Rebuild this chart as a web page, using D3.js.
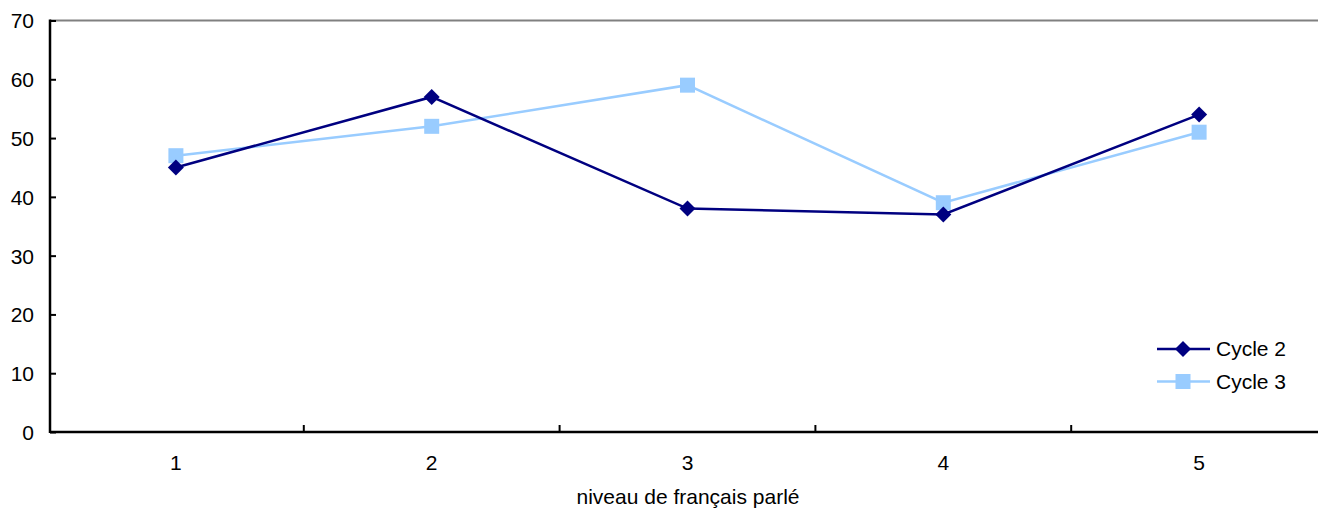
<!DOCTYPE html>
<html>
<head>
<meta charset="utf-8">
<script src="https://cdn.jsdelivr.net/npm/d3@7"></script>
<style>
  html, body { margin: 0; padding: 0; background: #fff; }
  svg { display: block; font-family: "Liberation Sans", Arial, sans-serif; }
</style>
</head>
<body>
<svg id="chart" width="1318" height="510"></svg>
<script>
// Levels of spoken French and the share per cycle
const categories = ["1", "2", "3", "4", "5"];
const cycle2 = [45, 57, 38, 37, 54];
const cycle3 = [47, 52, 59, 39, 51];
const yTicks = [0, 10, 20, 30, 40, 50, 60, 70];
const seriesNames = ["Cycle 2", "Cycle 3"];
const xTitle = "niveau de français parlé";

const svg = d3.select("#chart");
const axisX = 50, plotLeft = 48, plotRight = 1327, plotTop = 20.5, plotBottom = 432;
const fontSize = 21;

const x = d3.scaleBand().domain(categories).range([plotLeft, plotRight]).padding(0);
const y = d3.scaleLinear().domain([0, 70]).range([plotBottom, plotTop]);
const cx = d => x(d) + x.bandwidth() / 2;

// top frame line
svg.append("line")
  .attr("x1", axisX).attr("x2", 1318)
  .attr("y1", y(70)).attr("y2", y(70))
  .attr("stroke", "#808080").attr("stroke-width", 2);

// y axis (ticks point into the plot)
const yAxis = svg.append("g")
  .attr("transform", `translate(${axisX},0)`)
  .call(d3.axisRight(y).tickValues(yTicks).tickSize(6).tickFormat(d3.format("d")));
yAxis.select(".domain").remove();
yAxis.selectAll(".tick line").attr("stroke", "#000").attr("stroke-width", 2);
yAxis.selectAll(".tick text")
  .attr("x", -16).attr("text-anchor", "end").attr("dy", "0.35em")
  .attr("font-size", fontSize).attr("fill", "#000")
  .style("font-family", "Liberation Sans, Arial, sans-serif");

svg.append("line")
  .attr("x1", axisX).attr("x2", axisX)
  .attr("y1", y(70) - 1).attr("y2", plotBottom + 1)
  .attr("stroke", "#000").attr("stroke-width", 2.5);

// x axis: category labels centred, ticks between categories
const xAxis = svg.append("g").attr("transform", `translate(0,${plotBottom})`);
xAxis.append("line")
  .attr("x1", axisX).attr("x2", 1318)
  .attr("stroke", "#000").attr("stroke-width", 2.5);
xAxis.selectAll("line.tk").data(categories.slice(1)).enter().append("line")
  .attr("class", "tk")
  .attr("x1", d => x(d)).attr("x2", d => x(d))
  .attr("y1", 0).attr("y2", -7)
  .attr("stroke", "#000").attr("stroke-width", 2);
xAxis.selectAll("text").data(categories).enter().append("text")
  .attr("x", d => cx(d)).attr("y", 38)
  .attr("text-anchor", "middle").attr("font-size", fontSize).attr("fill", "#000")
  .text(d => d);

svg.append("text")
  .attr("x", 688).attr("y", 504)
  .attr("text-anchor", "middle").attr("font-size", fontSize).attr("fill", "#000")
  .text(xTitle);

const line = d3.line().x((d, i) => cx(categories[i])).y(d => y(d));

const series = [
  { name: seriesNames[0], values: cycle2, color: "#000080", marker: "diamond" },
  { name: seriesNames[1], values: cycle3, color: "#99CCFF", marker: "square" }
];

function drawMarker(g, type, color, px, py) {
  if (type === "diamond") {
    const r = 8;
    g.append("path")
      .attr("d", `M${px},${py - r}L${px + r},${py}L${px},${py + r}L${px - r},${py}Z`)
      .attr("fill", color);
  } else {
    const s = 15;
    g.append("rect")
      .attr("x", px - s / 2).attr("y", py - s / 2)
      .attr("width", s).attr("height", s)
      .attr("fill", color);
  }
}

// Cycle 3 first so Cycle 2 sits on top where they cross
[series[1], series[0]].forEach(s => {
  const g = svg.append("g");
  g.append("path").datum(s.values)
    .attr("d", line).attr("fill", "none")
    .attr("stroke", s.color).attr("stroke-width", 2.5);
  s.values.forEach((v, i) => drawMarker(g, s.marker, s.color, cx(categories[i]), y(v)));
});

// legend
const legend = svg.append("g");
series.forEach((s, i) => {
  const ly = 349 + i * 32.5;
  legend.append("line")
    .attr("x1", 1157).attr("x2", 1210).attr("y1", ly).attr("y2", ly)
    .attr("stroke", s.color).attr("stroke-width", 2.5);
  drawMarker(legend, s.marker, s.color, 1183, ly);
  legend.append("text")
    .attr("x", 1216).attr("y", ly).attr("dy", "0.35em")
    .attr("font-size", fontSize).attr("fill", "#000")
    .text(s.name);
});
</script>
</body>
</html>
